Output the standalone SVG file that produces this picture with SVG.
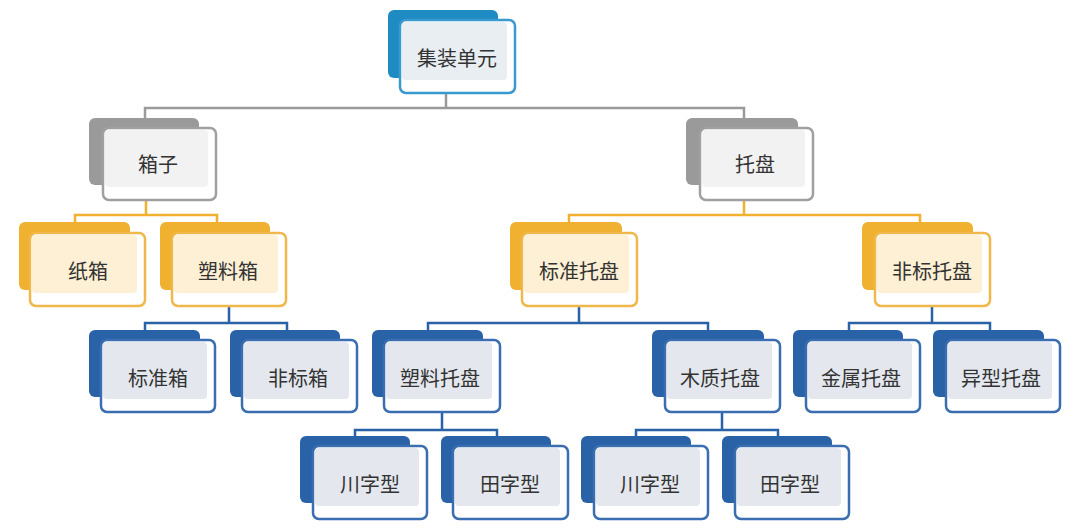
<svg xmlns="http://www.w3.org/2000/svg" width="1080" height="532" viewBox="0 0 1080 532">
<style>
text{font-family:"Noto Sans CJK SC",sans-serif;font-size:20px;fill:#333;text-anchor:middle;dominant-baseline:central}
.f{fill:#fff;stroke-width:2.5}
.c{fill:none;stroke-width:2.5}
</style>
<rect width="1080" height="532" fill="#fff"/>
<g id="connectors">
<path class="c" stroke="#9a9a9a" d="M446 94V108M145 118V108H744V118"/>
<path class="c" stroke="#f0b030" d="M146 200V215M75 222V215H217V222M744 200V215M569 222V215H920V222"/>
<path class="c" stroke="#2a62a8" d="M229 306V323M145 330V323H287V330M579 306V323M428 330V323H708V330M932 306V323M849 330V323H990V330M442 412V430M355 436V430H497V436M722 412V430M636 436V430H778V436"/>
</g>
<defs>
<g id="n"/>
</defs>
<g id="root"><rect x="388" y="10" width="110" height="68" rx="6" fill="#1e8bc3"/><rect class="f" x="400" y="20" width="115" height="73" rx="6" stroke="#3a9ad0"/><rect x="402" y="22" width="105" height="58" rx="4" fill="#e8eef2"/><text x="457" y="57">集装单元</text></g>
<g id="xiangzi"><rect x="89" y="118" width="110" height="67" rx="6" fill="#9a9a9a"/><rect class="f" x="103" y="128" width="113" height="72" rx="6" stroke="#a0a0a0"/><rect x="105" y="130" width="103" height="57" rx="4" fill="#f2f2f2"/><text x="158" y="163">箱子</text></g>
<g id="tuopan"><rect x="686" y="118" width="112" height="67" rx="6" fill="#9a9a9a"/><rect class="f" x="700" y="128" width="113" height="72" rx="6" stroke="#a0a0a0"/><rect x="702" y="130" width="103" height="57" rx="4" fill="#f2f2f2"/><text x="755" y="163">托盘</text></g>
<g id="zhixiang"><rect x="19" y="222" width="111" height="68" rx="6" fill="#f0b030"/><rect class="f" x="30" y="233" width="115" height="73" rx="6" stroke="#f0b84a"/><rect x="32" y="235" width="105" height="58" rx="4" fill="#fdf0d5"/><text x="88" y="270">纸箱</text></g>
<g id="suliaoxiang"><rect x="160" y="222" width="110" height="68" rx="6" fill="#f0b030"/><rect class="f" x="172" y="233" width="114" height="73" rx="6" stroke="#f0b84a"/><rect x="174" y="235" width="104" height="58" rx="4" fill="#fdf0d5"/><text x="228" y="270">塑料箱</text></g>
<g id="biaozhuntuopan"><rect x="510" y="222" width="112" height="68" rx="6" fill="#f0b030"/><rect class="f" x="522" y="233" width="115" height="73" rx="6" stroke="#f0b84a"/><rect x="524" y="235" width="105" height="58" rx="4" fill="#fdf0d5"/><text x="579" y="270">标准托盘</text></g>
<g id="feibiaotuopan"><rect x="862" y="222" width="111" height="68" rx="6" fill="#f0b030"/><rect class="f" x="875" y="233" width="115" height="73" rx="6" stroke="#f0b84a"/><rect x="877" y="235" width="105" height="58" rx="4" fill="#fdf0d5"/><text x="932" y="270">非标托盘</text></g>
<g id="biaozhunxiang"><rect x="89" y="330" width="111" height="67" rx="6" fill="#2a62a8"/><rect class="f" x="101" y="340" width="114" height="72" rx="6" stroke="#3a6eb0"/><rect x="103" y="342" width="104" height="57" rx="4" fill="#e4e8ee"/><text x="158" y="377">标准箱</text></g>
<g id="feibiaoxiang"><rect x="230" y="330" width="110" height="67" rx="6" fill="#2a62a8"/><rect class="f" x="242" y="340" width="115" height="72" rx="6" stroke="#3a6eb0"/><rect x="244" y="342" width="105" height="57" rx="4" fill="#e4e8ee"/><text x="298" y="377">非标箱</text></g>
<g id="suliaotuopan"><rect x="372" y="330" width="111" height="67" rx="6" fill="#2a62a8"/><rect class="f" x="384" y="340" width="116" height="72" rx="6" stroke="#3a6eb0"/><rect x="386" y="342" width="106" height="57" rx="4" fill="#e4e8ee"/><text x="440" y="377">塑料托盘</text></g>
<g id="muzhituopan"><rect x="652" y="330" width="112" height="67" rx="6" fill="#2a62a8"/><rect class="f" x="665" y="340" width="115" height="72" rx="6" stroke="#3a6eb0"/><rect x="667" y="342" width="105" height="57" rx="4" fill="#e4e8ee"/><text x="720" y="377">木质托盘</text></g>
<g id="jinshutuopan"><rect x="793" y="330" width="110" height="67" rx="6" fill="#2a62a8"/><rect class="f" x="806" y="340" width="114" height="72" rx="6" stroke="#3a6eb0"/><rect x="808" y="342" width="104" height="57" rx="4" fill="#e4e8ee"/><text x="861" y="377">金属托盘</text></g>
<g id="yixingtuopan"><rect x="933" y="330" width="111" height="67" rx="6" fill="#2a62a8"/><rect class="f" x="946" y="340" width="114" height="72" rx="6" stroke="#3a6eb0"/><rect x="948" y="342" width="104" height="57" rx="4" fill="#e4e8ee"/><text x="1001" y="377">异型托盘</text></g>
<g id="chuan1"><rect x="300" y="436" width="110" height="67" rx="6" fill="#2a62a8"/><rect class="f" x="313" y="446" width="114" height="73" rx="6" stroke="#3a6eb0"/><rect x="315" y="448" width="104" height="58" rx="4" fill="#e4e8ee"/><text x="370" y="483">川字型</text></g>
<g id="tian1"><rect x="441" y="436" width="110" height="67" rx="6" fill="#2a62a8"/><rect class="f" x="453" y="446" width="115" height="73" rx="6" stroke="#3a6eb0"/><rect x="455" y="448" width="105" height="58" rx="4" fill="#e4e8ee"/><text x="510" y="483">田字型</text></g>
<g id="chuan2"><rect x="581" y="436" width="110" height="67" rx="6" fill="#2a62a8"/><rect class="f" x="594" y="446" width="114" height="73" rx="6" stroke="#3a6eb0"/><rect x="596" y="448" width="104" height="58" rx="4" fill="#e4e8ee"/><text x="650" y="483">川字型</text></g>
<g id="tian2"><rect x="722" y="436" width="110" height="67" rx="6" fill="#2a62a8"/><rect class="f" x="735" y="446" width="114" height="73" rx="6" stroke="#3a6eb0"/><rect x="737" y="448" width="104" height="58" rx="4" fill="#e4e8ee"/><text x="790" y="483">田字型</text></g>
</svg>
